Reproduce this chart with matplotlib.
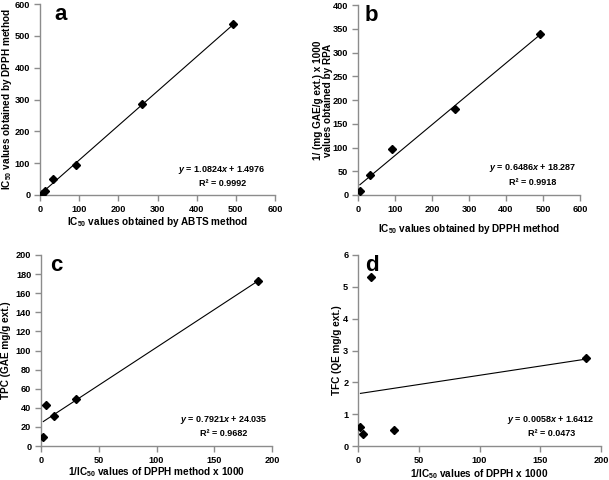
import matplotlib
matplotlib.use("Agg")
import matplotlib.pyplot as plt
import numpy as np

plt.rcParams['font.family'] = ['Liberation Sans']
plt.rcParams['font.weight'] = 'bold'
plt.rcParams['mathtext.fontset'] = 'custom'
plt.rcParams['mathtext.rm'] = 'Liberation Sans:bold'
plt.rcParams['mathtext.it'] = 'Liberation Sans:bold:italic'
plt.rcParams['mathtext.bf'] = 'Liberation Sans:bold'

# panel a: ABTS vs DPPH IC50
a_x = [4, 12, 33, 92, 261, 494]
a_y = [3, 12, 50, 95, 285, 536]
a_fit = (1.0824, 1.4976)
# panel b: DPPH IC50 vs RPA
b_x = [5, 33, 92, 261, 493]
b_y = [8, 42, 97, 182, 338]
b_fit = (0.6486, 18.287)
# panel c: 1/IC50 DPPH vs TPC
c_x = [2, 4, 11, 30, 188]
c_y = [9, 43, 31, 49, 173]
c_fit = (0.7921, 24.035)
# panel d: 1/IC50 DPPH vs TFC
d_x = [2, 4, 11, 30, 188]
d_y = [0.6, 0.38, 5.3, 0.5, 2.77]
d_fit = (0.0058, 1.6412)

W, H = 609, 480
fig = plt.figure(figsize=(W / 100, H / 100), dpi=100)


def make_axes(l, t, r, b):
    return fig.add_axes([l / W, 1 - b / H, (r - l) / W, (b - t) / H])


def style(ax):
    for s in ['top', 'right']:
        ax.spines[s].set_visible(False)
    for s in ['left', 'bottom']:
        ax.spines[s].set_color('#8c8c8c')
        ax.spines[s].set_linewidth(1.0)
    ax.tick_params(direction='out', length=4, width=1.0, color='#8c8c8c',
                   labelsize=6.6, pad=3)
    for lab in ax.get_xticklabels() + ax.get_yticklabels():
        lab.set_fontweight('bold')


def panel(ax, x, y, fit, xlim, ylim, xstep, ystep, letter, lx, eq, r2,
          ex, ey, ry):
    x = np.array(x)
    ax.plot(x, y, 'D', color='black', markersize=4.5, zorder=3)
    xs = np.array([x.min(), x.max()])
    ax.plot(xs, fit[0] * xs + fit[1], color='black', lw=0.8)
    ax.set_xlim(*xlim)
    ax.set_ylim(*ylim)
    ax.set_xticks(np.arange(xlim[0], xlim[1] + xstep / 2, xstep))
    ax.set_yticks(np.arange(ylim[0], ylim[1] + ystep / 2, ystep))
    ax.text(lx, 1.0, letter, transform=ax.transAxes, fontsize=16,
            fontweight='bold', va='top')
    ax.text(ex, ey, eq, fontsize=6.5, ha='center', va='center')
    ax.text(ex, ry, r2, fontsize=6.5, ha='center', va='center')
    style(ax)


def labels(ax, xl, yl, xy, yx):
    ax.set_xlabel(xl, fontsize=7.2, fontweight='bold')
    ax.set_ylabel(yl, fontsize=7.2, fontweight='bold', linespacing=1.0)
    ax.xaxis.set_label_coords(0.5, xy)
    ax.yaxis.set_label_coords(yx, 0.5)


ax_a = make_axes(40, 4, 275, 195)
panel(ax_a, a_x, a_y, a_fit, (0, 600), (0, 600), 100, 100, 'a', 0.06,
      r'$y$ = 1.0824$x$ + 1.4976', 'R² = 0.9992', 465, 78, 35)
labels(ax_a, r'IC$_{50}$ values obtained by ABTS method',
       r'IC$_{50}$ values obtained by DPPH method', -0.105, -0.112)

ax_b = make_axes(358, 5, 580, 195)
panel(ax_b, b_x, b_y, b_fit, (0, 600), (0, 400), 100, 50, 'b', 0.03,
      r'$y$ = 0.6486$x$ + 18.287', 'R² = 0.9918', 473, 57, 27)
labels(ax_b, r'IC$_{50}$ values obtained by DPPH method',
       '1/ (mg GAE/g ext.) x 1000\nvalues obtained by RPA', -0.142, -0.113)

ax_c = make_axes(41, 255, 272, 446)
panel(ax_c, c_x, c_y, c_fit, (0, 200), (0, 200), 50, 20, 'c', 0.04,
      r'$y$ = 0.7921$x$ + 24.035', 'R² = 0.9682', 158, 27, 13.6)
labels(ax_c, r'1/IC$_{50}$ values of DPPH method x 1000',
       'TPC (GAE mg/g ext.)', -0.10, -0.128)

ax_d = make_axes(358, 255, 601, 446)
panel(ax_d, d_x, d_y, d_fit, (0, 200), (0, 6), 50, 1, 'd', 0.03,
      r'$y$ = 0.0058$x$ + 1.6412', 'R² = 0.0473', 159, 0.82, 0.38)
labels(ax_d, r'1/IC$_{50}$ values of DPPH x 1000',
       'TFC (QE mg/g ext.)', -0.11, -0.066)

fig.savefig('out.png', dpi=100)
